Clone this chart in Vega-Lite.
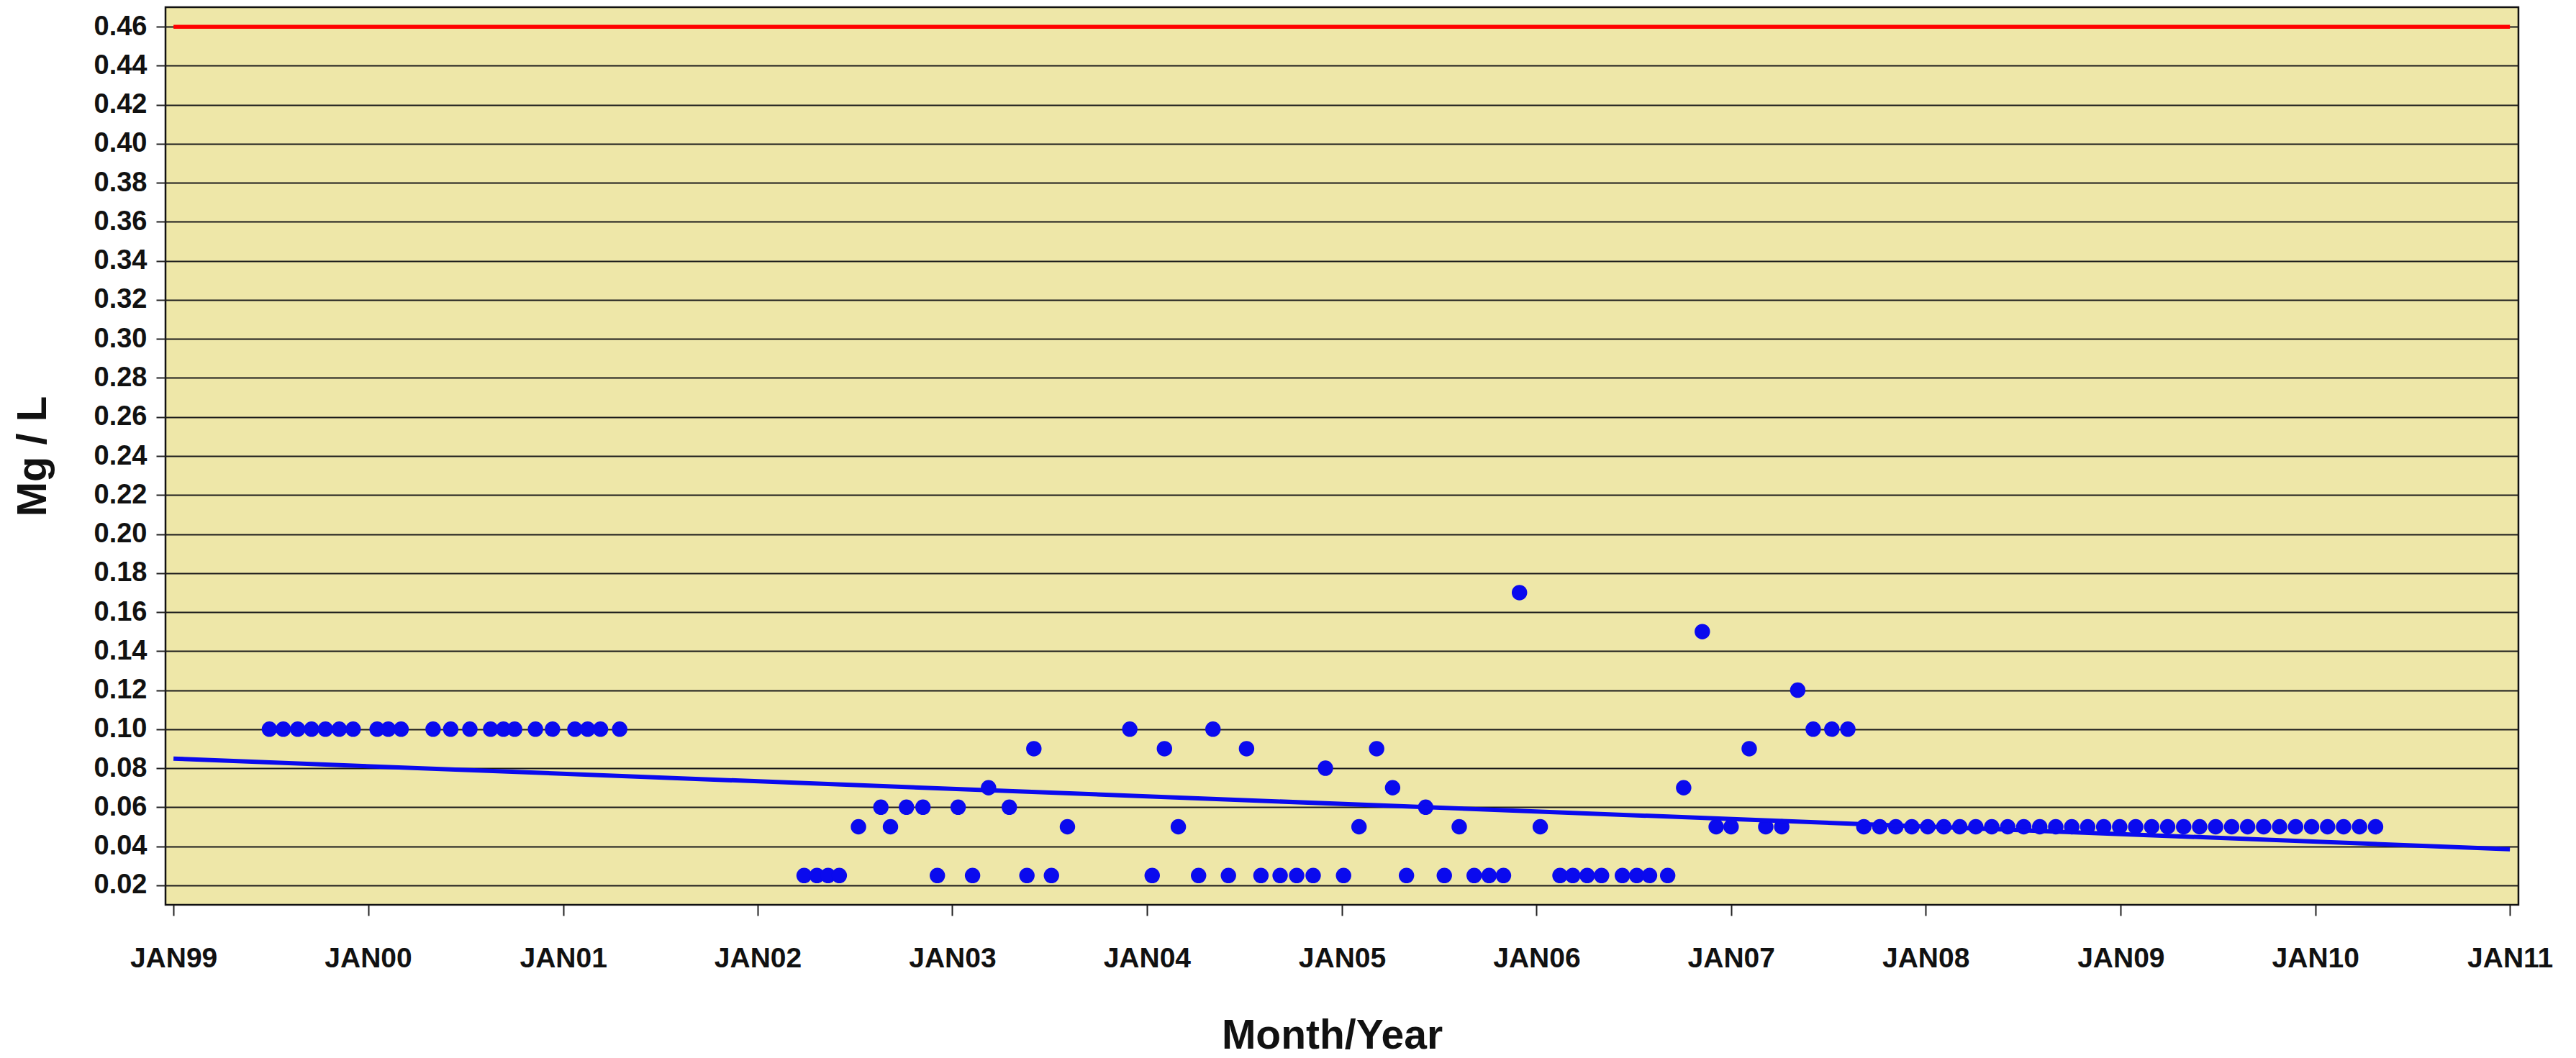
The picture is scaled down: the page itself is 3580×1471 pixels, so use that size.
{
  "$schema": "https://vega.github.io/schema/vega-lite/v6.json",
  "width": 3270,
  "height": 1248,
  "autosize": {"type": "none"},
  "padding": {"left": 230, "top": 10, "right": 80, "bottom": 213},
  "background": "white",
  "config": {
    "font": "Liberation Sans",
    "view": {"fill": "#EEE7A8", "stroke": "#111111", "strokeWidth": 2.5}
  },
  "datasets": {
    "samples": [
      {"date": "1999-06-30", "value": 0.10}, {"date": "1999-07-26", "value": 0.10}, {"date": "1999-08-22", "value": 0.10},
      {"date": "1999-09-17", "value": 0.10}, {"date": "1999-10-13", "value": 0.10}, {"date": "1999-11-08", "value": 0.10},
      {"date": "1999-12-04", "value": 0.10}, {"date": "2000-01-18", "value": 0.10}, {"date": "2000-02-08", "value": 0.10},
      {"date": "2000-03-03", "value": 0.10}, {"date": "2000-05-02", "value": 0.10}, {"date": "2000-06-04", "value": 0.10},
      {"date": "2000-07-10", "value": 0.10}, {"date": "2000-08-18", "value": 0.10}, {"date": "2000-09-11", "value": 0.10},
      {"date": "2000-10-02", "value": 0.10}, {"date": "2000-11-10", "value": 0.10}, {"date": "2000-12-12", "value": 0.10},
      {"date": "2001-01-23", "value": 0.10}, {"date": "2001-02-16", "value": 0.10}, {"date": "2001-03-12", "value": 0.10},
      {"date": "2001-04-17", "value": 0.10},
      {"date": "2002-03-29", "value": 0.025}, {"date": "2002-04-22", "value": 0.025}, {"date": "2002-05-13", "value": 0.025},
      {"date": "2002-06-03", "value": 0.025}, {"date": "2002-07-09", "value": 0.05}, {"date": "2002-08-20", "value": 0.06},
      {"date": "2002-09-07", "value": 0.05}, {"date": "2002-10-07", "value": 0.06}, {"date": "2002-11-07", "value": 0.06},
      {"date": "2002-12-04", "value": 0.025}, {"date": "2003-01-12", "value": 0.06}, {"date": "2003-02-08", "value": 0.025},
      {"date": "2003-03-10", "value": 0.07}, {"date": "2003-04-18", "value": 0.06}, {"date": "2003-05-21", "value": 0.025},
      {"date": "2003-06-03", "value": 0.09}, {"date": "2003-07-06", "value": 0.025}, {"date": "2003-08-05", "value": 0.05},
      {"date": "2003-11-30", "value": 0.10}, {"date": "2004-01-11", "value": 0.025}, {"date": "2004-02-03", "value": 0.09},
      {"date": "2004-02-29", "value": 0.05}, {"date": "2004-04-07", "value": 0.025}, {"date": "2004-05-04", "value": 0.10},
      {"date": "2004-06-02", "value": 0.025}, {"date": "2004-07-06", "value": 0.09}, {"date": "2004-08-02", "value": 0.025},
      {"date": "2004-09-07", "value": 0.025}, {"date": "2004-10-08", "value": 0.025}, {"date": "2004-11-08", "value": 0.025},
      {"date": "2004-12-01", "value": 0.08}, {"date": "2005-01-04", "value": 0.025}, {"date": "2005-02-02", "value": 0.05},
      {"date": "2005-03-07", "value": 0.09}, {"date": "2005-04-06", "value": 0.07}, {"date": "2005-05-02", "value": 0.025},
      {"date": "2005-06-07", "value": 0.06}, {"date": "2005-07-12", "value": 0.025}, {"date": "2005-08-09", "value": 0.05},
      {"date": "2005-09-06", "value": 0.025}, {"date": "2005-10-04", "value": 0.025}, {"date": "2005-10-31", "value": 0.025},
      {"date": "2005-11-30", "value": 0.17}, {"date": "2006-01-08", "value": 0.05}, {"date": "2006-02-14", "value": 0.025},
      {"date": "2006-03-10", "value": 0.025}, {"date": "2006-04-06", "value": 0.025}, {"date": "2006-05-03", "value": 0.025},
      {"date": "2006-06-11", "value": 0.025}, {"date": "2006-07-08", "value": 0.025}, {"date": "2006-08-01", "value": 0.025},
      {"date": "2006-09-04", "value": 0.025}, {"date": "2006-10-04", "value": 0.07}, {"date": "2006-11-08", "value": 0.15},
      {"date": "2006-12-04", "value": 0.05}, {"date": "2007-01-01", "value": 0.05}, {"date": "2007-02-04", "value": 0.09},
      {"date": "2007-03-07", "value": 0.05}, {"date": "2007-04-06", "value": 0.05}, {"date": "2007-05-06", "value": 0.12},
      {"date": "2007-06-04", "value": 0.10}, {"date": "2007-07-09", "value": 0.10}, {"date": "2007-08-08", "value": 0.10},
      {"date": "2007-09-07", "value": 0.05}, {"date": "2007-10-07", "value": 0.05}, {"date": "2007-11-06", "value": 0.05},
      {"date": "2007-12-06", "value": 0.05}, {"date": "2008-01-05", "value": 0.05}, {"date": "2008-02-04", "value": 0.05},
      {"date": "2008-03-05", "value": 0.05}, {"date": "2008-04-04", "value": 0.05}, {"date": "2008-05-04", "value": 0.05},
      {"date": "2008-06-03", "value": 0.05}, {"date": "2008-07-03", "value": 0.05}, {"date": "2008-08-02", "value": 0.05},
      {"date": "2008-09-01", "value": 0.05}, {"date": "2008-10-01", "value": 0.05}, {"date": "2008-10-31", "value": 0.05},
      {"date": "2008-11-30", "value": 0.05}, {"date": "2008-12-30", "value": 0.05}, {"date": "2009-01-29", "value": 0.05},
      {"date": "2009-02-28", "value": 0.05}, {"date": "2009-03-30", "value": 0.05}, {"date": "2009-04-29", "value": 0.05},
      {"date": "2009-05-29", "value": 0.05}, {"date": "2009-06-28", "value": 0.05}, {"date": "2009-07-28", "value": 0.05},
      {"date": "2009-08-27", "value": 0.05}, {"date": "2009-09-26", "value": 0.05}, {"date": "2009-10-26", "value": 0.05},
      {"date": "2009-11-25", "value": 0.05}, {"date": "2009-12-25", "value": 0.05}, {"date": "2010-01-24", "value": 0.05},
      {"date": "2010-02-23", "value": 0.05}, {"date": "2010-03-25", "value": 0.05}, {"date": "2010-04-24", "value": 0.05}
    ],
    "limit": [
      {"date": "1999-01-01", "value": 0.46},
      {"date": "2011-01-01", "value": 0.46}
    ],
    "trend": [
      {"date": "1999-01-01", "value": 0.0849},
      {"date": "2011-01-01", "value": 0.0385}
    ]
  },
  "encoding": {
    "x": {
      "field": "date",
      "type": "temporal",
      "scale": {
        "type": "utc",
        "domain": [
          {"year": 1998, "month": 12, "date": 17, "utc": true},
          {"year": 2011, "month": 1, "date": 17, "utc": true}
        ]
      },
      "axis": {
        "values": [
          {"year": 1999, "month": 1, "date": 1, "utc": true},
          {"year": 2000, "month": 1, "date": 1, "utc": true},
          {"year": 2001, "month": 1, "date": 1, "utc": true},
          {"year": 2002, "month": 1, "date": 1, "utc": true},
          {"year": 2003, "month": 1, "date": 1, "utc": true},
          {"year": 2004, "month": 1, "date": 1, "utc": true},
          {"year": 2005, "month": 1, "date": 1, "utc": true},
          {"year": 2006, "month": 1, "date": 1, "utc": true},
          {"year": 2007, "month": 1, "date": 1, "utc": true},
          {"year": 2008, "month": 1, "date": 1, "utc": true},
          {"year": 2009, "month": 1, "date": 1, "utc": true},
          {"year": 2010, "month": 1, "date": 1, "utc": true},
          {"year": 2011, "month": 1, "date": 1, "utc": true}
        ],
        "labelExpr": "'JAN' + utcFormat(datum.value, '%y')",
        "grid": false,
        "domain": false,
        "tickSize": 15,
        "tickWidth": 2,
        "tickColor": "#222222",
        "labelPadding": 40,
        "labelFontSize": 39,
        "labelFontWeight": "bold",
        "labelColor": "#111111",
        "labelFlush": false,
        "labelOverlap": false,
        "labelBound": false,
        "title": "Month/Year",
        "titleFontSize": 57,
        "titleFontWeight": "bold",
        "titleColor": "#111111",
        "titleX": 1621,
        "titleY": 199,
        "titleAlign": "center",
        "titleBaseline": "alphabetic"
      }
    },
    "y": {
      "field": "value",
      "type": "quantitative",
      "scale": {"domain": [0.01, 0.47], "nice": false, "zero": false},
      "axis": {
        "values": [0.02, 0.04, 0.06, 0.08, 0.10, 0.12, 0.14, 0.16, 0.18, 0.20, 0.22, 0.24, 0.26, 0.28, 0.30, 0.32, 0.34, 0.36, 0.38, 0.40, 0.42, 0.44, 0.46],
        "format": ".2f",
        "grid": true,
        "gridColor": "#1a1a1a",
        "gridWidth": 2.2,
        "gridOpacity": 1,
        "domain": false,
        "tickSize": 13,
        "tickWidth": 2,
        "tickColor": "#222222",
        "labelPadding": 13,
        "labelFontSize": 38,
        "labelFontWeight": "bold",
        "labelColor": "#111111",
        "labelOverlap": false,
        "labelFlush": false,
        "title": "Mg / L",
        "titleFontSize": 58,
        "titleFontWeight": "bold",
        "titleColor": "#111111",
        "titleAngle": 270,
        "titleX": -167,
        "titleY": 624,
        "titleAlign": "center",
        "titleBaseline": "alphabetic"
      }
    }
  },
  "layer": [
    {
      "data": {"name": "limit"},
      "mark": {"type": "line", "color": "#FF0000", "strokeWidth": 5.5},
      "encoding": {}
    },
    {
      "data": {"name": "samples"},
      "mark": {"type": "circle", "color": "#0A0AEE", "opacity": 1, "size": 460}
    },
    {
      "data": {"name": "trend"},
      "mark": {"type": "line", "color": "#0A0AEE", "strokeWidth": 6},
      "encoding": {}
    }
  ]
}
